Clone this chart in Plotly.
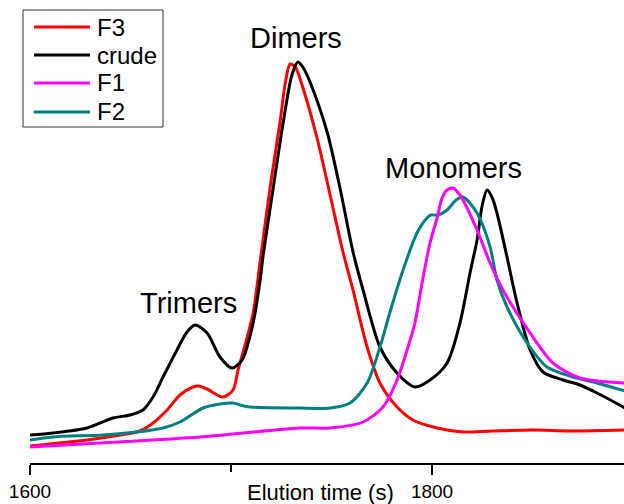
import plotly.graph_objects as go

# Elution time (s) and detector signal (arb. units) for each fraction
t_f3 = [1600, 1628.4, 1644.8, 1654.7, 1661.2, 1668.2, 1674.6, 1681.1, 1684.0, 1688.1,
        1696.0, 1701.0, 1703.5, 1707.0, 1711.0, 1714.4, 1719.4, 1724.4, 1727.0, 1729.4,
        1732.0, 1735.8, 1742.8, 1749.3, 1755.7, 1760.7, 1767.7, 1774.1, 1782.6, 1790.5,
        1802.5, 1815.4, 1830, 1850, 1870, 1896]
s_f3 = [17, 23, 28, 32, 40, 53, 68, 76, 77, 74,
        66, 73, 93, 118, 150, 200, 275, 341, 380, 399,
        396, 375, 325, 268, 211, 173, 116, 80, 56, 43,
        35, 31, 32, 33, 32, 33]

t_crude = [1600, 1611.4, 1628.4, 1641.3, 1649.8, 1656.2, 1661.2, 1666.2, 1673.1, 1678.1,
           1682.1, 1688.1, 1694.5, 1700.5, 1705.5, 1711.0, 1714.5, 1716.0, 1721.0, 1726.0,
           1730.3, 1733.3, 1736.0, 1739.3, 1747.8, 1754.2, 1760.7, 1765.7, 1774.1, 1782.6,
           1791.5, 1799.0, 1807.5, 1813.9, 1818.9, 1822.4, 1825.0, 1827.4, 1830.0, 1832.3,
           1837.3, 1842.3, 1848.8, 1855.2, 1865.2, 1873.6, 1882.1, 1896]
s_crude = [28, 30, 35, 45, 48, 53, 66, 86, 113, 131,
           138, 130, 106, 95, 103, 140, 183, 208, 275, 341,
           388, 401, 395, 381, 331, 275, 211, 173, 116, 90,
           76, 83, 100, 140, 190, 223, 258, 273, 265, 250,
           206, 160, 113, 91, 83, 78, 70, 55]

t_f1 = [1600, 1634.8, 1684.6, 1734.3, 1749.3, 1765.7, 1775.6, 1782.6, 1789.1, 1791.5,
        1795.5, 1799.0, 1802.5, 1805.0, 1807.5, 1810.4, 1813.9, 1815.4, 1822.4, 1828.9,
        1835.3, 1840.3, 1848.8, 1860.2, 1873.6, 1896]
s_f1 = [16, 20, 26, 35, 35, 41, 56, 83, 123, 140,
        185, 220, 245, 265, 273, 275, 268, 263, 233, 200,
        173, 156, 130, 100, 85, 80]

t_f2 = [1600, 1611.4, 1636.3, 1653.2, 1666.2, 1674.6, 1686.1, 1694.5, 1701.0, 1704.5,
        1709.5, 1734.3, 1749.3, 1759.2, 1767.7, 1774.1, 1779.1, 1785.6, 1792.5, 1797.5,
        1799.5, 1803.0, 1807.5, 1812.0, 1815.4, 1822.4, 1828.9, 1832.3, 1837.3, 1847.3,
        1857.2, 1870.1, 1882.1, 1896]
s_f2 = [23, 26, 28, 31, 35, 41, 55, 59, 60, 58,
        56, 55, 55, 60, 80, 116, 151, 193, 230, 245,
        248, 248, 253, 263, 266, 250, 216, 183, 156, 120,
        96, 86, 80, 72]

series_names = ["F3", "crude", "F1", "F2"]
series_colors = ["#FF0000", "#000000", "#FF00FF", "#008080"]
series_data = {"F3": (t_f3, s_f3), "crude": (t_crude, s_crude),
               "F1": (t_f1, s_f1), "F2": (t_f2, s_f2)}

x_ticks = [1600, 1800]
peak_labels = [("Trimers", 1678.8, 160), ("Dimers", 1732.5, 425), ("Monomers", 1810.5, 295)]

W, H = 624, 504
PLOT_LEFT = 30     # pixel column of the 1600 s tick
PLOT_BOTTOM = 463  # pixel row of the x axis


def px(x):
    return (x - PLOT_LEFT) / (W - PLOT_LEFT)


def py(y):
    return (PLOT_BOTTOM - y) / PLOT_BOTTOM


FONT = "Liberation Sans, Arial, sans-serif"

fig = go.Figure()
draw_order = ["F3", "crude", "F2", "F1"]
for name in draw_order:
    t, s = series_data[name]
    color = series_colors[series_names.index(name)]
    fig.add_trace(go.Scatter(x=t, y=s, mode="lines", name=name,
                             line=dict(color=color, width=3, shape="spline", smoothing=0.8),
                             showlegend=False, cliponaxis=True))

annotations = []
for text, xt, ys in peak_labels:
    annotations.append(dict(x=xt, y=ys, xref="x", yref="y", text=text, showarrow=False,
                            font=dict(family=FONT, size=29, color="black"),
                            xanchor="center", yanchor="middle"))

annotations.append(dict(x=px(320), y=py(492), xref="paper", yref="paper",
                        text="Elution time (s)", showarrow=False,
                        font=dict(family=FONT, size=22, color="black"),
                        xanchor="center", yanchor="middle"))

# legend box drawn by hand
shapes = [dict(type="rect", xref="paper", yref="paper",
               x0=px(23), x1=px(163), y0=py(10), y1=py(127),
               line=dict(color="#333333", width=1), fillcolor="white", layer="above")]
legend_rows = [27, 55, 83, 112]
for name, row in zip(series_names, legend_rows):
    color = series_colors[series_names.index(name)]
    shapes.append(dict(type="line", xref="paper", yref="paper",
                       x0=px(34), x1=px(90), y0=py(row), y1=py(row),
                       line=dict(color=color, width=3), layer="above"))
    annotations.append(dict(x=px(95), y=py(row), xref="paper", yref="paper",
                            text=name, showarrow=False,
                            font=dict(family=FONT, size=24, color="black"),
                            xanchor="left", yanchor="middle"))

fig.update_layout(
    width=W, height=H,
    margin=dict(l=PLOT_LEFT, r=0, t=0, b=H - PLOT_BOTTOM, pad=0),
    paper_bgcolor="white", plot_bgcolor="white",
    xaxis=dict(range=[1600, 1895.5], showgrid=False, zeroline=False,
               showline=True, linecolor="black", linewidth=2,
               ticks="outside", ticklen=10, tickwidth=2, tickcolor="black",
               tickvals=x_ticks, ticktext=[str(v) for v in x_ticks],
               tickfont=dict(family=FONT, size=19, color="black"),
               minor=dict(ticks="outside", ticklen=7, tickwidth=2, tickcolor="black",
                          tickvals=[1700], showgrid=False)),
    yaxis=dict(range=[0, PLOT_BOTTOM], visible=False, showgrid=False, zeroline=False),
    annotations=annotations,
    shapes=shapes,
)

fig.write_html("out.html")
